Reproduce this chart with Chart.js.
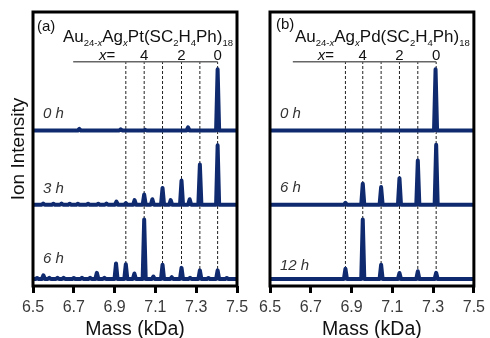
<!DOCTYPE html>
<html><head><meta charset="utf-8">
<script src="https://cdn.jsdelivr.net/npm/chart.js@4"></script>
<style>
html,body{margin:0;padding:0;background:#fff;}
#wrap{position:relative;width:490px;height:338px;overflow:hidden;background:#fff;}
canvas{position:absolute;top:0;}
</style>
</head><body>
<div id="wrap">
<canvas id="ca" width="255" height="338" style="left:0px"></canvas>
<canvas id="cb" width="255" height="338" style="left:235px"></canvas>
</div>
<script>
// ---------------- data ----------------
const xTicks = [6.5, 6.7, 6.9, 7.1, 7.3, 7.5];
const xAxisTitle = 'Mass (kDa)';
const yAxisTitle = 'Ion Intensity';

// panel (a) Au24-xAgxPt(SC2H4Ph)18
const timesA = ['0 h', '3 h', '6 h'];
const lineMassA = [7.405, 7.318, 7.228, 7.135, 7.045, 6.955];   // x = 0..5
const headerStartA = 6.697;
const peaksA0h = [[6.727, 2.5], [6.93, 2], [7.05, 1], [7.26, 5], [7.405, 99]];
const peaksA3h = [[6.55, 2], [6.60, 1.5], [6.64, 2], [6.68, 1.5], [6.72, 1.5], [6.77, 1.5], [6.82, 1.5], [6.86, 2],
  [6.909, 5], [6.955, 2.5], [6.998, 7.5], [7.045, 16.6], [7.085, 9], [7.135, 27], [7.175, 7.5],
  [7.228, 39], [7.268, 9], [7.318, 65], [7.405, 96]];
const peaksA6h = [[6.52, 1.5], [6.551, 6], [6.58, 2], [6.62, 2], [6.65, 2], [6.70, 1.5], [6.74, 2], [6.78, 2],
  [6.813, 10], [6.85, 2], [6.907, 25], [6.955, 24], [6.997, 9], [7.045, 96], [7.09, 4], [7.135, 23],
  [7.18, 3], [7.228, 18], [7.27, 2], [7.318, 14], [7.36, 1.5], [7.405, 14], [7.45, 1.5]];

// panel (b) Au24-xAgxPd(SC2H4Ph)18
const timesB = ['0 h', '6 h', '12 h'];
const lineMassB = [7.315, 7.225, 7.135, 7.045, 6.955, 6.870];   // x = 0..5
const headerStartB = 6.612;
const peaksB0h = [[7.312, 99]];
const peaksB6h = [[6.870, 3], [6.955, 34], [7.045, 28.5], [7.135, 43], [7.225, 71.5], [7.315, 97]];
const peaksB12h = [[6.870, 16.6], [6.955, 96], [7.045, 23], [7.135, 9.7], [7.225, 12.4], [7.315, 10]];

const headerLabels = ['4', '2', '0'];       // value of x shown above the lines
const headerLabelIdx = [4, 2, 0];

// ---------------- style / layout ----------------
const FONT = "'Liberation Sans', Arial, Helvetica, sans-serif";
const NAVY = '#0f2a6e';
const STEP = 120;          // vertical stacking step between spectra
const HEADER_Y = 351;      // level of the x= scale bar (same units as y axis)
const HW = 0.0075;         // half width of a peak (kDa)

function spectrum(peaks, offset) {
  const pts = [{x: 6.5, y: offset}];
  peaks.slice().sort((a, b) => a[0] - b[0]).forEach(([m, h]) => {
    pts.push({x: m - HW, y: offset}, {x: m, y: offset + h}, {x: m + HW, y: offset});
  });
  pts.push({x: 7.5, y: offset});
  return pts;
}

function drawFormula(ctx, x, y, metal) {
  const parts = [
    ['Au', 0, 0], ['24-', 1, 0], ['x', 1, 1], ['Ag', 0, 0], ['x', 1, 1], [metal + '(SC', 0, 0],
    ['2', 1, 0], ['H', 0, 0], ['4', 1, 0], ['Ph)', 0, 0], ['18', 1, 0]
  ];
  ctx.textAlign = 'left';
  ctx.textBaseline = 'alphabetic';
  ctx.fillStyle = '#111';
  parts.forEach(([t, sub, ital]) => {
    ctx.font = (ital ? 'italic ' : '') + (sub ? '9.5px ' : '17px ') + FONT;
    ctx.fillText(t, x, y + (sub ? 3.5 : 0));
    x += ctx.measureText(t).width;
  });
}

function makePanel(id, cfg) {
  const ds = [];
  cfg.lineMass.forEach(m => ds.push({
    data: [{x: m, y: 0}, {x: m, y: HEADER_Y}],
    borderColor: '#222', borderWidth: 1, borderDash: [3, 2], pointRadius: 0, order: 3, clip: false
  }));
  ds.push({
    data: [{x: cfg.headerStart, y: HEADER_Y}, {x: cfg.lineMass[0], y: HEADER_Y}],
    borderColor: '#666', borderWidth: 1.5, pointRadius: 0, order: 2
  });
  cfg.spectra.forEach((pk, i) => ds.push({
    data: spectrum(pk, (cfg.spectra.length - 1 - i) * STEP),
    borderColor: NAVY, borderWidth: 4, pointRadius: 0, tension: 0,
    borderJoinStyle: 'round', borderCapStyle: 'round', order: 1
  }));

  const textPlugin = {
    id: 'txt' + id,
    afterDatasetsDraw(chart) {
      const {ctx, chartArea: a} = chart;
      ctx.save();
      ctx.lineWidth = 3;
      ctx.strokeStyle = '#000';
      ctx.strokeRect(a.left, a.top, a.right - a.left, a.bottom - a.top);
      ctx.restore();
    },
    afterDraw(chart) {
      const {ctx, chartArea: a, scales: {x, y}} = chart;
      ctx.save();
      // panel letter
      ctx.font = '15px ' + FONT;
      ctx.fillStyle = '#111';
      ctx.textAlign = 'left';
      ctx.textBaseline = 'middle';
      ctx.fillText(cfg.letter, a.left + cfg.letterDx, cfg.letterY);
      // formula
      drawFormula(ctx, a.left + cfg.formulaDx, 42, cfg.metal);
      // header labels
      const hy = y.getPixelForValue(HEADER_Y) - 2;
      ctx.textBaseline = 'alphabetic';
      ctx.textAlign = 'center';
      ctx.font = '15px ' + FONT;
      ctx.fillStyle = '#111';
      headerLabelIdx.forEach((k, i) => ctx.fillText(headerLabels[i], x.getPixelForValue(cfg.lineMass[k]), hy));
      const xe = x.getPixelForValue(cfg.lineMass[4]) - 37;
      ctx.textAlign = 'left';
      ctx.font = 'italic 15px ' + FONT;
      const wx = ctx.measureText('x').width;
      ctx.font = '15px ' + FONT;
      const weq = ctx.measureText('=').width;
      const x0 = xe - (wx + weq) / 2;
      ctx.font = 'italic 15px ' + FONT;
      ctx.fillText('x', x0, hy);
      ctx.font = '15px ' + FONT;
      ctx.fillText('=', x0 + wx, hy);
      // time labels
      ctx.font = 'italic 15px ' + FONT;
      ctx.fillStyle = '#333';
      ctx.textBaseline = 'middle';
      cfg.times.forEach((t, i) => {
        const base = y.getPixelForValue((cfg.times.length - 1 - i) * STEP);
        ctx.fillText(t, a.left + 10, base - cfg.timeDy[i]);
      });
      ctx.restore();
    }
  };

  return new Chart(document.getElementById(id), {
    type: 'line',
    data: {datasets: ds},
    options: {
      responsive: false, animation: false, devicePixelRatio: 1,
      layout: {padding: {top: 12, right: cfg.padRight, left: 0, bottom: 0}},
      plugins: {legend: {display: false}, tooltip: {enabled: false}},
      scales: {
        x: {
          type: 'linear', min: 6.5, max: 7.5,
          afterBuildTicks: s => { s.ticks = xTicks.map(v => ({value: v})); },
          afterFit: s => { s.height = 52; },
          ticks: {font: {size: 16, family: FONT}, color: '#3a3a3a', padding: 5, maxRotation: 0, autoSkip: false,
            callback: v => Number(v).toFixed(1)},
          grid: {display: true, drawOnChartArea: false, drawTicks: true, tickLength: 7, tickWidth: 3, tickColor: '#000'},
          border: {display: false},
          title: {display: true, text: xAxisTitle, color: '#111', font: {size: 19.5, family: FONT, lineHeight: 0.9},
            padding: {top: 0, bottom: 0}}
        },
        y: {
          type: 'linear', min: -11.3, max: 431.5,
          afterFit: s => { s.width = cfg.yWidth; },
          ticks: {display: false}, grid: {display: false}, border: {display: false},
          title: {display: cfg.showYTitle, text: yAxisTitle, color: '#111', font: {size: 19, family: FONT},
            padding: {top: 7.6, bottom: 0}}
        }
      }
    },
    plugins: [textPlugin]
  });
}

makePanel('ca', {
  lineMass: lineMassA, headerStart: headerStartA, spectra: [peaksA0h, peaksA3h, peaksA6h],
  times: timesA, timeDy: [16.4, 15.6, 20], letter: '(a)', letterDx: 4, letterY: 27,
  formulaDx: 30, metal: 'Pt', padRight: 18, yWidth: 33, showYTitle: true
});
makePanel('cb', {
  lineMass: lineMassB, headerStart: headerStartB, spectra: [peaksB0h, peaksB6h, peaksB12h],
  times: timesB, timeDy: [16.4, 16.6, 13], letter: '(b)', letterDx: 6, letterY: 25,
  formulaDx: 25, metal: 'Pd', padRight: 15, yWidth: 35, showYTitle: false
});
</script>
</body></html>
